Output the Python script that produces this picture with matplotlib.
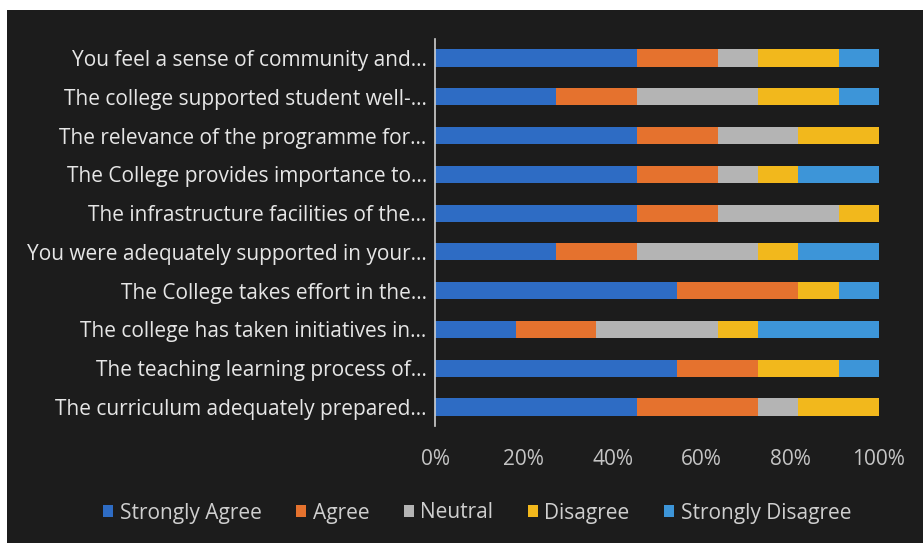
import matplotlib.pyplot as plt
from matplotlib.patches import Rectangle

questions = [
    "The curriculum adequately prepared...",
    "The teaching learning process of...",
    "The college has taken initiatives in...",
    "The College takes effort in the...",
    "You were adequately supported in your...",
    "The infrastructure facilities of the...",
    "The College provides importance to...",
    "The relevance of the programme for...",
    "The college supported student well-...",
    "You feel a sense of community and...",
]
# response counts (out of 11 respondents), bottom row first
strongly_agree = [5, 6, 2, 6, 3, 5, 5, 5, 3, 5]
agree = [3, 2, 2, 3, 2, 2, 2, 2, 2, 2]
neutral = [1, 0, 3, 0, 3, 3, 1, 2, 3, 1]
disagree = [2, 2, 1, 1, 1, 1, 1, 2, 2, 2]
strongly_disagree = [0, 1, 3, 1, 2, 0, 2, 0, 1, 1]

series = ["Strongly Agree", "Agree", "Neutral", "Disagree", "Strongly Disagree"]
colors = ["#2e6cc4", "#e5722e", "#b4b4b4", "#f2b81c", "#3d95d8"]
bg = "#1c1c1c"

plt.rcParams['font.family'] = ['Open Sans', 'DejaVu Sans']

fig = plt.figure(figsize=(9.23, 5.43), dpi=100, facecolor="white")
fig.patches.append(Rectangle((7 / 923, 0), 1, 1 - 10 / 543, transform=fig.transFigure,
                             facecolor=bg, edgecolor="none", zorder=-10))
ax = fig.add_axes([435 / 923, 116.6 / 543, 444 / 923, 387.8 / 543])
ax.set_facecolor("none")

data = [strongly_agree, agree, neutral, disagree, strongly_disagree]
totals = [sum(v) for v in zip(*data)]
left = [0.0] * len(questions)
for name, vals, c in zip(series, data, colors):
    frac = [v / t for v, t in zip(vals, totals)]
    ax.barh(range(len(questions)), frac, left=left, height=0.44, color=c, label=name)
    left = [l + f for l, f in zip(left, frac)]

ax.set_xlim(0, 1)
ax.set_ylim(-0.5, len(questions) - 0.5)
ax.set_yticks(range(len(questions)))
ax.set_yticklabels(questions, fontsize=15, color="#e6e6e6")
ax.set_xticks([0, 0.2, 0.4, 0.6, 0.8, 1.0])
ax.set_xticklabels(["0%", "20%", "40%", "60%", "80%", "100%"], fontsize=15, color="#c4c4c4")
ax.tick_params(length=0, axis="y", pad=6)
ax.tick_params(length=0, axis="x", pad=16)
for s in ["top", "right", "bottom"]:
    ax.spines[s].set_visible(False)
ax.spines["left"].set_color("#d0d0d0")
ax.spines["left"].set_linewidth(1.2)

leg = fig.legend(loc="center", bbox_to_anchor=(477 / 923, 1 - 513 / 543), ncol=5,
                 frameon=False, fontsize=15, handlelength=0.5, handleheight=0.5,
                 handletextpad=0.3, columnspacing=1.65)
for t in leg.get_texts():
    t.set_color("#cfcfcf")

fig.savefig("out.png", dpi=100, facecolor=fig.get_facecolor())
